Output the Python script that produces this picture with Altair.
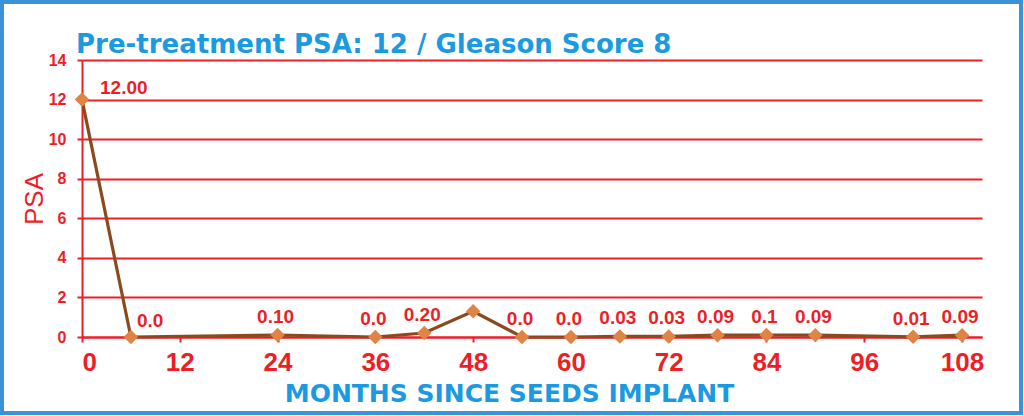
import altair as alt
import pandas as pd

months = [0, 6, 24, 36, 42, 48, 54, 60, 66, 72, 78, 84, 90, 102, 108]
psa = [12.0, 0.0, 0.10, 0.0, 0.20, 1.3, 0.0, 0.0, 0.03, 0.03, 0.09, 0.1, 0.09, 0.01, 0.09]
labels = ["12.00", "0.0", "0.10", "0.0", "0.20", "", "0.0", "0.0", "0.03", "0.03",
          "0.09", "0.1", "0.09", "0.01", "0.09"]
x_ticks = [0, 12, 24, 36, 48, 60, 72, 84, 96, 108]
y_ticks = [0, 2, 4, 6, 8, 10, 12, 14]

title_text = "Pre-treatment PSA: 12 / Gleason Score 8"
x_title = "MONTHS SINCE SEEDS IMPLANT"
y_title = "PSA"

RED = "#ec1f27"
BLUE = "#1b9ae2"
BROWN = "#8b4a1e"
ORANGE = "#df8444"
FRAME = "#3b92d6"

df = pd.DataFrame({"month": months, "psa": psa, "label": labels})
df["idx"] = range(len(df))

x_enc = alt.X("month:Q",
              scale=alt.Scale(domain=[0, 110.45], nice=False, zero=False),
              axis=alt.Axis(values=x_ticks, title=x_title, grid=False,
                            labelFontSize=26, labelFontWeight="bold", labelColor=RED,
                            labelFont="Liberation Sans", labelPadding=7,
                            labelOverlap=False,
                            tickColor=RED, tickSize=5, tickWidth=2,
                            domainColor=RED, domainWidth=2,
                            titleColor=BLUE, titleFont="DejaVu Sans", titleFontSize=25,
                            titleFontWeight="bold", titlePadding=6,
                            titleX=427, titleAlign="center"))
y_enc = alt.Y("psa:Q",
              scale=alt.Scale(domain=[0, 14], nice=False),
              axis=alt.Axis(values=y_ticks, tickCount=8, title=y_title, grid=True,
                            gridColor=RED, gridWidth=2, gridOpacity=1,
                            labelFontSize=16, labelFontWeight="bold", labelColor=RED,
                            labelFont="Liberation Sans", labelPadding=11,
                            labelOverlap=False,
                            tickColor=RED, tickSize=5, tickWidth=2,
                            domainColor=RED, domainWidth=2,
                            titleColor=RED, titleFont="Liberation Sans", titleFontSize=26,
                            titleFontWeight="normal", titlePadding=1))

base = alt.Chart(df).encode(x=x_enc, y=y_enc)

line = base.mark_line(color=BROWN, strokeWidth=3.2)
pts = base.mark_point(shape="diamond", filled=True, color=ORANGE, size=210, opacity=1)

lab_first = base.transform_filter("datum.idx == 0").mark_text(
    align="left", baseline="alphabetic", dx=18, dy=-6, fontSize=19, fontWeight="bold",
    font="Liberation Sans", color=RED).encode(text="label:N")
lab_second = base.transform_filter("datum.idx == 1").mark_text(
    align="left", baseline="alphabetic", dx=6, dy=-10, fontSize=19, fontWeight="bold",
    font="Liberation Sans", color=RED).encode(text="label:N")
lab_rest = base.transform_filter("datum.idx > 1").mark_text(
    align="center", baseline="alphabetic", dx=-2, dy=-12, fontSize=19, fontWeight="bold",
    font="Liberation Sans", color=RED).encode(text="label:N")

title_mark = alt.Chart(alt.Data(values=[{"t": title_text}])).mark_text(
    align="left", baseline="alphabetic", font="DejaVu Sans", fontSize=26,
    fontWeight="bold", color=BLUE).encode(
    x=alt.value(-6), y=alt.value(-7), text="t:N")

frame = alt.Chart(alt.Data(values=[{}])).mark_rect(
    filled=False, stroke=FRAME, strokeWidth=4).encode(
    x=alt.value(-80), x2=alt.value(939), y=alt.value(-58), y2=alt.value(353))

chart = alt.layer(line, pts, lab_first, lab_second, lab_rest, title_mark, frame).properties(
    width=900, height=277,
    padding={"left": 82, "top": 60, "right": 42, "bottom": 79},
    autosize=alt.AutoSizeParams(type="none"),
    background="white",
).configure_view(stroke=None)

chart.save("out.html", embed_options={"renderer": "svg", "actions": False})
